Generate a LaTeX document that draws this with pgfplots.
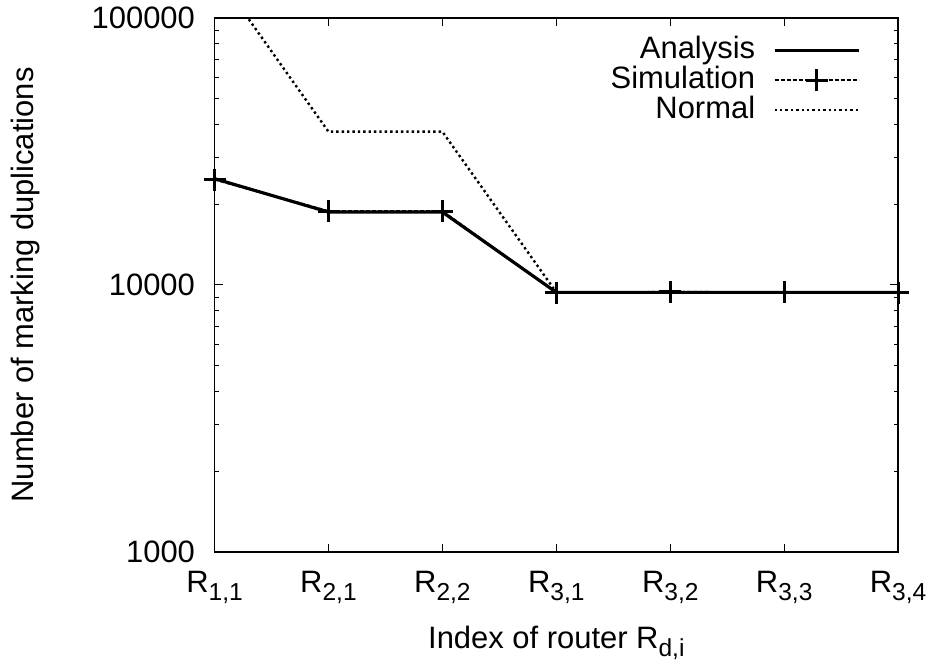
\documentclass[border=0pt]{standalone}
\usepackage{fontspec}
\setmainfont{Liberation Sans}
\usepackage{pgfplots}
\pgfplotsset{compat=1.18}
\newcommand\fs{\fontsize{15.5}{18}\selectfont}
\newcommand\sub[1]{\raisebox{-4pt}{\fontsize{12.3}{14}\selectfont #1}}
\begin{document}
\begin{tikzpicture}
\begin{axis}[
 scale only axis, width=342.5pt, height=267.5pt,
 ymode=log, ymin=1000, ymax=100000, xmin=0, xmax=6,
 xtick={0,1,2,3,4,5,6},
 xticklabels={R\sub{1,1},R\sub{2,1},R\sub{2,2},R\sub{3,1},R\sub{3,2},R\sub{3,3},R\sub{3,4}},
 ytick={1000,10000,100000}, yticklabels={1000,10000,100000},
 minor ytick={2000,3000,4000,5000,6000,7000,8000,9000,20000,30000,40000,50000,60000,70000,80000,90000},
 tick align=inside, major tick length=4pt, minor tick length=2pt,
 axis line style={line width=0.8pt}, tick style={line width=0.6pt, black},
 tick label style={font=\fs}, label style={font=\fs},
 xticklabel style={anchor=base, yshift=-20.5pt},
 yticklabel style={xshift=-6.3pt},
 xlabel={Index of router R\sub{d,i}}, ylabel={Number of marking duplications},
 xlabel style={at={(axis description cs:0.5,-0.181)}, anchor=base},
 ylabel style={at={(axis description cs:-0.276,0.5)}, anchor=center},
 legend style={font=\fs, draw=none, fill=none, at={(0.945,0.968)}, anchor=north east, inner sep=0pt,
   nodes={inner sep=1pt, text height=10.5pt, text depth=2.5pt}, column sep=8pt},
 legend cell align=right, legend plot pos=right,
 legend image code/.code={\draw[mark repeat=2,mark phase=2,#1] plot coordinates {(0pt,0pt) (21pt,0pt) (42pt,0pt)};},
 clip=true,
]
\addplot[black, line width=1.6pt, no markers] coordinates {(0,25000) (1,18750) (2,18750) (3,9375) (4,9375) (5,9375) (6,9375)};
\addlegendentry{Analysis}
\addplot[black, line width=1pt, dash pattern=on 2pt off 1pt, mark=+, mark size=5.5pt, mark options={solid, line width=1.5pt}] coordinates {(0,24800) (1,18900) (2,18900) (3,9350) (4,9420) (5,9380) (6,9360)};
\addlegendentry{Simulation}
\addplot[black, line width=1.2pt, dash pattern=on 1.2pt off 1.5pt, no markers] coordinates {(0,150000) (1,37500) (2,37500) (3,9375) (4,9375) (5,9375) (6,9375)};
\addlegendentry{Normal}
\end{axis}
\path (current axis.south west) ++(-107.5pt,-53.5pt) rectangle ++(466.5pt,330pt);
\end{tikzpicture}
\end{document}
